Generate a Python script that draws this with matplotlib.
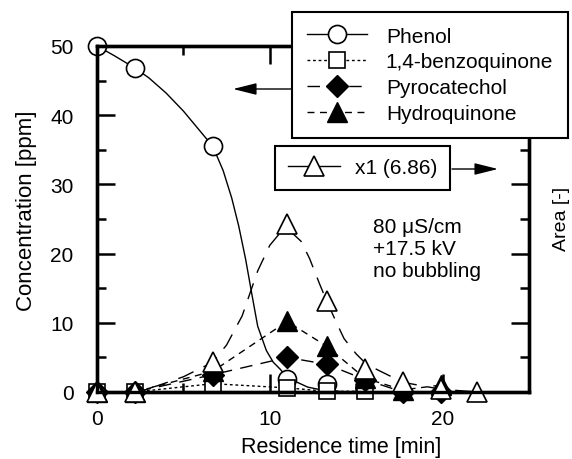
import matplotlib
matplotlib.use('Agg')
import matplotlib.pyplot as plt
from matplotlib.lines import Line2D
from matplotlib.ticker import MultipleLocator

plt.rcParams['font.family'] = ['Liberation Sans', 'DejaVu Sans']

# sampling times [min]
time = [0, 2.2, 6.7, 11.0, 13.3, 15.5, 17.7, 19.9, 22.0]

# concentrations [ppm]
phenol = [50, 46.8, 35.5, 1.9, 1.1]
benzoquinone = [0, 0, 1.2, 0.6, 0.1, 0.1]
pyrocatechol = [0, 0, 2.5, 5.0, 4.0, 1.8, 0, 0]
hydroquinone = [0, 0, 3.0, 10.2, 6.6, 2.0, 0.3, 1.0]
# peak area (x1), right axis
area = [0, 0, 4.3, 24.3, 13.1, 3.3, 1.4, 0.4, 0]

# guide curves
phenol_fit_t = [0, 1, 2.2, 3, 4, 5, 6, 6.7, 7.3, 7.8, 8.2, 8.6, 8.7, 9.0, 9.3,
                9.8, 10.2, 10.6, 11.0, 11.5, 12.2, 13, 14]
phenol_fit = [50, 48.6, 46.8, 45.4, 43.2, 40.6, 37.6, 35.5, 32, 28, 24, 19.2, 17.8,
              13.6, 9.5, 6.0, 4.3, 3.3, 2.1, 1.5, 0.7, 0.3, 0.1]
area_fit_t = [0, 2.2, 3.5, 5, 6.7, 7.5, 8.4, 9.3, 10, 10.6, 11.2, 11.8, 12.3, 12.9,
              13.3, 13.9, 14.3, 15, 15.6, 16.4, 17.7, 19.9, 22]
area_fit = [0, 0, 0.9, 2.2, 4.3, 6.8, 11, 17.5, 21.2, 23, 23.2, 21.8, 19.3, 15.5,
            13.1, 9.8, 7.7, 5.5, 4.0, 3.0, 1.4, 0.4, 0]

fig = plt.figure(figsize=(5.72, 4.6), dpi=100)
ax = fig.add_axes([97/572, 67/460, 432/572, 346/460])

ax.plot(phenol_fit_t, phenol_fit, color='k', lw=1)
ax.plot(time[:5], phenol, 'o', ms=13, mfc='white', mec='k', mew=1.2, clip_on=False)
ax.plot(time[:6], benzoquinone, color='k', lw=1, ls=(0, (2, 2)), marker='s', ms=11,
        mfc='white', mec='k', mew=1.2, clip_on=False)
ax.plot(time[:8], pyrocatechol, color='k', lw=1, ls=(0, (9, 6)), marker='D', ms=11.5,
        clip_on=False)
ax.plot(time[:8], hydroquinone, color='k', lw=1, ls=(0, (5, 4)), marker='^', ms=14,
        clip_on=False)

ax2 = ax.twinx()
ax2.plot(area_fit_t, area_fit, color='k', lw=1, ls=(0, (12, 8)))
ax2.plot(time, area, '^', ms=15, mfc='white', mec='k', mew=1.2, clip_on=False)

ax.set_xlim(0, 25)
ax.set_ylim(0, 50)
ax2.set_ylim(0, 50)
ax.xaxis.set_major_locator(MultipleLocator(10))
ax.xaxis.set_minor_locator(MultipleLocator(5))
for a in (ax, ax2):
    a.yaxis.set_major_locator(MultipleLocator(10))
    a.yaxis.set_minor_locator(MultipleLocator(5))
    a.tick_params(which='major', direction='in', length=13, width=1.8, labelsize=15)
    a.tick_params(which='minor', direction='in', length=6.5, width=1.8)
    for s in a.spines.values():
        s.set_linewidth(2.4)
ax.tick_params(axis='x', which='both', top=True, pad=12)
ax.tick_params(axis='y', which='both', right=False, pad=17)
ax2.tick_params(axis='y', which='both', labelright=False)

ax.set_xlabel('Residence time [min]', fontsize=15.5)
ax.xaxis.set_label_coords(0.565, -0.128)
ax.set_ylabel('Concentration [ppm]', fontsize=16)
ax.yaxis.set_label_coords(-0.14, 0.526)
ax2.set_ylabel('Area [-]', fontsize=14)
ax2.yaxis.set_label_coords(1.055, 0.503)

ax.text(16.0, 20.7, '80 \u03bcS/cm\n+17.5 kV\nno bubbling', fontsize=15,
        ha='left', va='center', linespacing=1.2)

h_phenol = Line2D([], [], color='k', lw=1, marker='o', ms=13, mfc='white', mew=1.2)
h_bq = Line2D([], [], color='k', lw=1, ls=(0, (2, 2)), marker='s', ms=11, mfc='white', mew=1.2)
h_pc = Line2D([], [], color='k', lw=1, ls=(0, (9, 6)), marker='D', ms=11.5)
h_hq = Line2D([], [], color='k', lw=1, ls=(0, (5, 4)), marker='^', ms=14)
h_area = Line2D([], [], color='k', lw=1, marker='^', ms=15, mfc='white', mew=1.2)

leg1 = fig.legend([h_phenol, h_bq, h_pc, h_hq],
                  ['Phenol', '1,4-benzoquinone', 'Pyrocatechol', 'Hydroquinone'],
                  loc='upper left', bbox_to_anchor=(292/572, 447/460), borderaxespad=0,
                  fancybox=False, edgecolor='k', framealpha=1, fontsize=15,
                  handlelength=2.9, handletextpad=0.9, labelspacing=0.33,
                  borderpad=0.7, numpoints=1)
leg1.get_frame().set_linewidth(1.5)

leg2 = fig.legend([h_area], ['x1 (6.86)'],
                  loc='upper left', bbox_to_anchor=(275/572, 313/460), borderaxespad=0,
                  fancybox=False, edgecolor='k', framealpha=1, fontsize=15,
                  handlelength=2.5, handletextpad=0.75, borderpad=0.6, numpoints=1)
leg2.get_frame().set_linewidth(1.5)

arrow = dict(arrowstyle='-|>,head_length=1.2,head_width=0.3', color='k', lw=1,
             mutation_scale=12, shrinkA=0, shrinkB=0)
ax.annotate('', xy=(233/572, 1 - 90/460), xytext=(292/572, 1 - 90/460),
            xycoords='figure fraction', textcoords='figure fraction', arrowprops=arrow)
ax.annotate('', xy=(498/572, 1 - 170/460), xytext=(452/572, 1 - 170/460),
            xycoords='figure fraction', textcoords='figure fraction', arrowprops=arrow)

fig.savefig('out.png', dpi=100)
